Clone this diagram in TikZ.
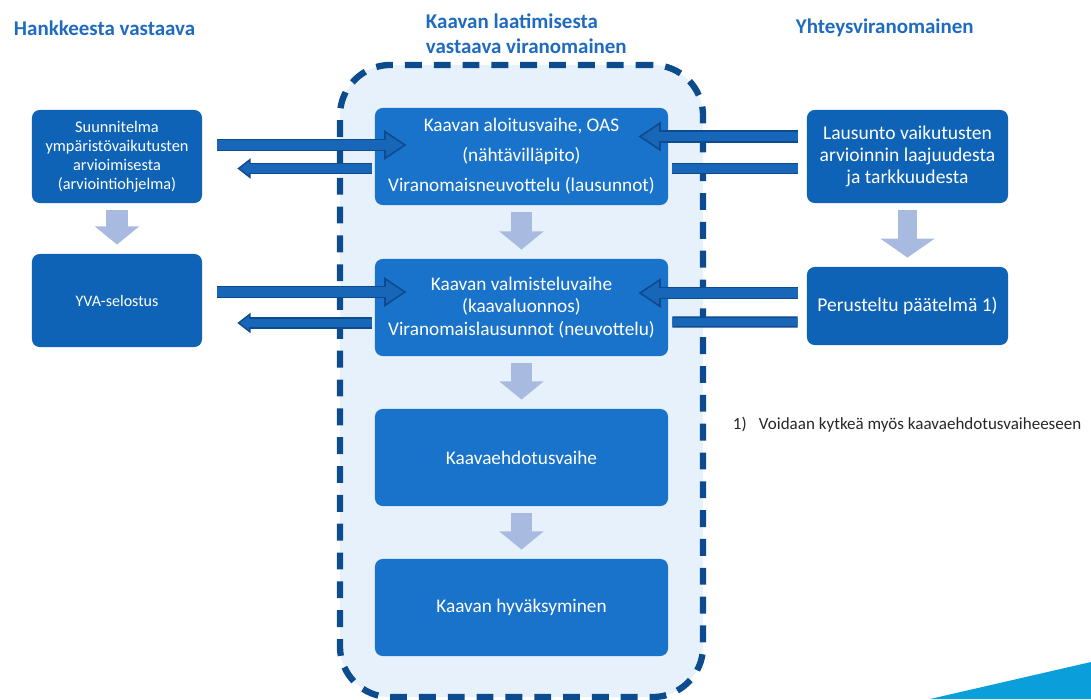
\documentclass[tikz,border=0pt]{standalone}
\usepackage{fontspec}
\setmainfont{Carlito}
\usepackage{tikz}
\usetikzlibrary{arrows.meta, calc}
\definecolor{headblue}{HTML}{1F6BBF}
\definecolor{sideblue}{HTML}{0F63B6}
\definecolor{phaseblue}{HTML}{1A73CB}
\definecolor{framedark}{HTML}{0C4C8E}
\definecolor{framefill}{HTML}{E7F1FB}
\definecolor{downblue}{HTML}{A8BAE0}
\definecolor{flowdark}{HTML}{0E4A8E}
\definecolor{flowmid}{HTML}{1766B8}
\definecolor{swooshblue}{HTML}{0A9FDB}
\definecolor{notegray}{HTML}{262626}

\begin{document}
\begin{tikzpicture}[x=0.025cm, y=-0.025cm,
        header/.style={anchor=west, align=left, text=headblue, font=\bfseries\fontsize{14.9}{17.8}\selectfont},
        sidebox/.style={rectangle, rounded corners=5.5pt, fill=sideblue, text=white, align=center, minimum width=4.25cm, inner sep=2pt},
        phasebox/.style={rectangle, rounded corners=5.5pt, fill=phaseblue, text=white, align=center, minimum width=7.325cm, minimum height=2.425cm, inner sep=2pt, font=\fontsize{13.7}{21.3}\selectfont},
        frame/.style={rectangle, draw=framedark, fill=framefill, line width=4.5pt, dash pattern=on 12pt off 8.5pt, rounded corners=36pt, minimum width=9.075cm, minimum height=15.8cm},
        down/.style={draw=downblue, line width=15pt, -{Triangle[length=13pt, width=31pt]}, shorten <=5pt, shorten >=6.5pt},
        flowbig/.style={draw=flowdark, line width=9pt, -{Triangle[length=16pt, width=20pt]}, postaction={draw=flowmid, line width=6.6pt, shorten >=2.3pt, -{Triangle[length=12.4pt, width=15.5pt]}}},
        flowsmall/.style={draw=flowdark, line width=8pt, -{Triangle[length=9.5pt, width=14pt]}, postaction={draw=flowmid, line width=5.8pt, shorten >=1.9pt, -{Triangle[length=6.4pt, width=9.4pt]}}},
        flowbar/.style={draw=flowdark, line width=8pt, postaction={draw=flowmid, line width=5.8pt}}]
        \useasboundingbox (0,0) rectangle (1091,699);

        \fill[swooshblue] (930,699) -- (1091,662) -- (1091,699) -- cycle;

        \node (head-left) at (9,28)[header] {Hankkeesta vastaava};
        \node (head-mid) at (421,34)[header] {Kaavan laatimisesta\\vastaava viranomainen};
        \node (head-right) at (791,28)[header] {Yhteysviranomainen};

        \node (authority) at (521.5,381)[frame] {};

        \node (plan) at (117,156.5)[sidebox, minimum height=2.325cm, font=\fontsize{11.6}{13.4}\selectfont] {Suunnitelma\\ympäristövaikutusten\\arvioimisesta\\(arviointiohjelma)};
        \node (yva) at (117,300.5)[sidebox, minimum height=2.325cm, font=\fontsize{11.4}{13}\selectfont] {YVA-selostus};

        \node (oas) at (521.5,156.5)[phasebox] {Kaavan aloitusvaihe, OAS\\(nähtävilläpito)\\Viranomaisneuvottelu (lausunnot)};
        \node (valm) at (521.5,307.5)[phasebox, font=\fontsize{13.7}{15.8}\selectfont] {Kaavan valmisteluvaihe\\(kaavaluonnos)\\Viranomaislausunnot (neuvottelu)};
        \node (ehdotus) at (521.5,457.5)[phasebox] {Kaavaehdotusvaihe};
        \node (hyvaks) at (521.5,607.5)[phasebox] {Kaavan hyväksyminen};

        \node (lausunto) at (907.5,156.5)[sidebox, minimum width=5.025cm, minimum height=2.325cm, font=\fontsize{13.9}{15.8}\selectfont] {Lausunto vaikutusten\\arvioinnin laajuudesta\\ja tarkkuudesta};
        \node (paatelma) at (907.5,306)[sidebox, minimum width=5.025cm, minimum height=1.95cm, font=\fontsize{13.9}{15.8}\selectfont] {Perusteltu päätelmä 1)};

        \node (note) at (728,425)[anchor=west, text=notegray, font=\fontsize{12.1}{14}\selectfont] {\makebox[18.5pt][l]{1)}Voidaan kytkeä myös kaavaehdotusvaiheeseen};

        \draw[down] (plan) -- (yva);
        \draw[down] (oas) -- (valm);
        \draw[down] (valm) -- (ehdotus);
        \draw[down] (ehdotus) -- (hyvaks);
        \draw[down, line width=14pt, -{Triangle[length=13.5pt, width=38pt]}] (lausunto) -- (paatelma);

        \draw[flowbig] ($(plan.east)+(15,-11.5)$) -- ($(oas.west)+(32,-11.5)$);
        \draw[flowsmall] ($(oas.west)+(-3,12)$) -- ($(plan.east)+(35,12)$);
        \draw[flowbig] ($(lausunto.west)+(-9,-20)$) -- ($(oas.east)+(-30,-20)$);
        \draw[flowbar] ($(oas.east)+(4,12)$) -- ($(lausunto.west)+(-9,12)$);

        \draw[flowbig] ($(yva.east)+(15,-8.5)$) -- ($(valm.west)+(32,-15.5)$);
        \draw[flowsmall] ($(valm.west)+(-3,15.5)$) -- ($(yva.east)+(35,22.5)$);
        \draw[flowbig] ($(paatelma.west)+(-9,-13)$) -- ($(valm.east)+(-30,-14.5)$);
        \draw[flowbar] ($(valm.east)+(4,14.5)$) -- ($(paatelma.west)+(-9,16)$);
    \end{tikzpicture}
\end{document}
